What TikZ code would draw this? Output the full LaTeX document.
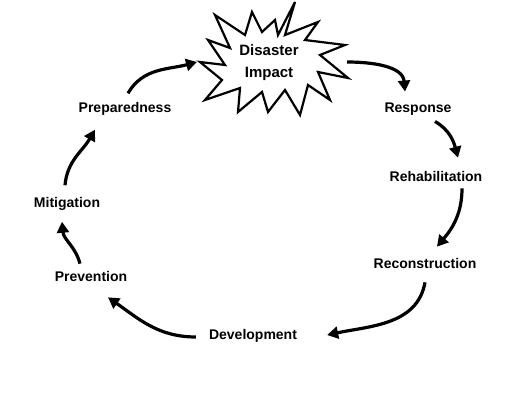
\documentclass[tikz,border=0pt]{standalone}
\usepackage{fontspec}
\setmainfont{Liberation Sans}
\usetikzlibrary{arrows.meta}
\begin{document}
\begin{tikzpicture}[x=1pt,y=1pt,
  lbl/.style={font=\bfseries\fontsize{14}{16}\selectfont, inner sep=2pt},
  arr/.style={line width=3.2pt, -{Triangle[length=11pt,width=12pt]}},
  starline/.style={draw=black, line width=2.2pt, fill=white, line join=miter}]
\useasboundingbox (0,0) rectangle (513,409);
% starburst
\draw[starline] (295,407) -- (285,374) -- (318,387) -- (305,369) -- (345,364) -- (320,354) -- (348,331) -- (318,337) -- (330,309) -- (308,324) -- (300,294) -- (285,319) -- (268,297) -- (262,317) -- (238,297) -- (240,321) -- (205,309) -- (222,329) -- (200,347) -- (225,344) -- (208,369) -- (230,361) -- (215,394) -- (245,374) -- (252,397) -- (262,377) -- (275,389) -- (278,374) -- cycle;
\node[font=\bfseries\fontsize{15}{22}\selectfont, align=center, inner sep=0pt] (impact) at (269,346) {Disaster\\Impact};
\coordinate (starW) at (197,347);
\coordinate (starE) at (347,347);
% stages
\node[lbl] (prep) at (125,300) {Preparedness};
\node[lbl] (resp) at (418,300) {Response};
\node[lbl] (rehab) at (436,233) {Rehabilitation};
\node[lbl] (recon) at (425,146) {Reconstruction};
\node[lbl] (dev) at (253,73) {Development};
\node[lbl] (prev) at (91,133) {Prevention};
\node[lbl] (mitig) at (67,205) {Mitigation};
% cycle arrows
\draw[arr] ([xshift=3pt,yshift=7pt]prep.north) to[out=60,in=195] (starW);
\draw[arr] (starE) to[out=0,in=95] ([xshift=-13pt,yshift=9pt]resp.north);
\draw[arr] ([xshift=17pt,yshift=-4pt]resp.south) to[out=-30,in=105] ([xshift=22pt,yshift=11pt]rehab.north);
\draw[arr] ([xshift=26pt,yshift=-5pt]rehab.south) to[out=-90,in=50] ([xshift=12pt,yshift=9pt]recon.north);
\draw[arr] ([yshift=-12pt]recon.south) to[out=-100,in=12] ([xshift=28pt,yshift=1pt]dev.east);
\draw[arr] ([xshift=-11pt,yshift=-1pt]dev.west) to[out=180,in=-35] ([xshift=17pt,yshift=-14pt]prev.south);
\draw[arr] ([xshift=-11pt,yshift=5pt]prev.north) to[out=105,in=-85] ([xshift=-5pt,yshift=-9pt]mitig.south);
\draw[arr] ([xshift=-2pt,yshift=10pt]mitig.north) to[out=85,in=-120] ([xshift=-30pt,yshift=-12pt]prep.south);
\end{tikzpicture}
\end{document}
